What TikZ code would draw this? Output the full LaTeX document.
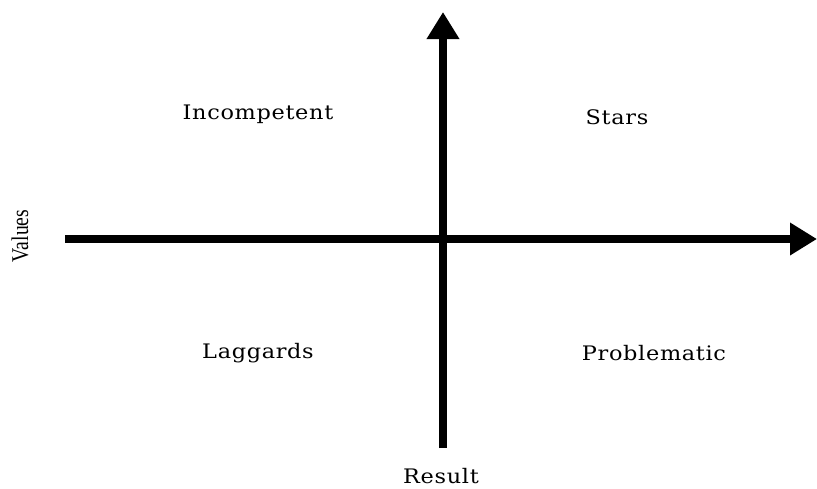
\documentclass[tikz,border=0pt]{standalone}
\usepackage{fontspec}
\usepackage{tikz}
\usetikzlibrary{arrows.meta,positioning}
\newfontfamily\quadfont[LetterSpace=3]{DejaVu Serif}
\newfontfamily\axisfont{Liberation Serif}

\begin{document}
\begin{tikzpicture}[
    x=1pt, y=-1pt,
    axis/.style={line width=7.5pt, -{Triangle[length=27pt, width=31pt]}},
    quad/.style={inner sep=0pt, xscale=1.12, font=\quadfont\fontsize{20}{22}\selectfont},
    vlabel/.style={inner sep=0pt, rotate=90, xscale=0.82, font=\axisfont\fontsize{24}{26}\selectfont}
  ]
    \useasboundingbox (0,0) rectangle (817,488);
    \coordinate (xl) at (65,239);
    \coordinate (xr) at (817,239);
    \coordinate (yb) at (443,448);
    \coordinate (yt) at (443,12);
    \draw[axis] (xl) -- (xr);
    \draw[axis] (yb) -- (yt);
    \node[quad] (incompetent) at (258,114) {Incompetent};
    \node[quad] (stars) at (617,117) {Stars};
    \node[quad] (laggards) at (258,353) {Laggards};
    \node[quad] (problematic) at (654,353) {Problematic};
    \node[quad] (result) at (441,476) {Result};
    \node[vlabel] (values) at (20,236) {Values};
  \end{tikzpicture}
\end{document}
